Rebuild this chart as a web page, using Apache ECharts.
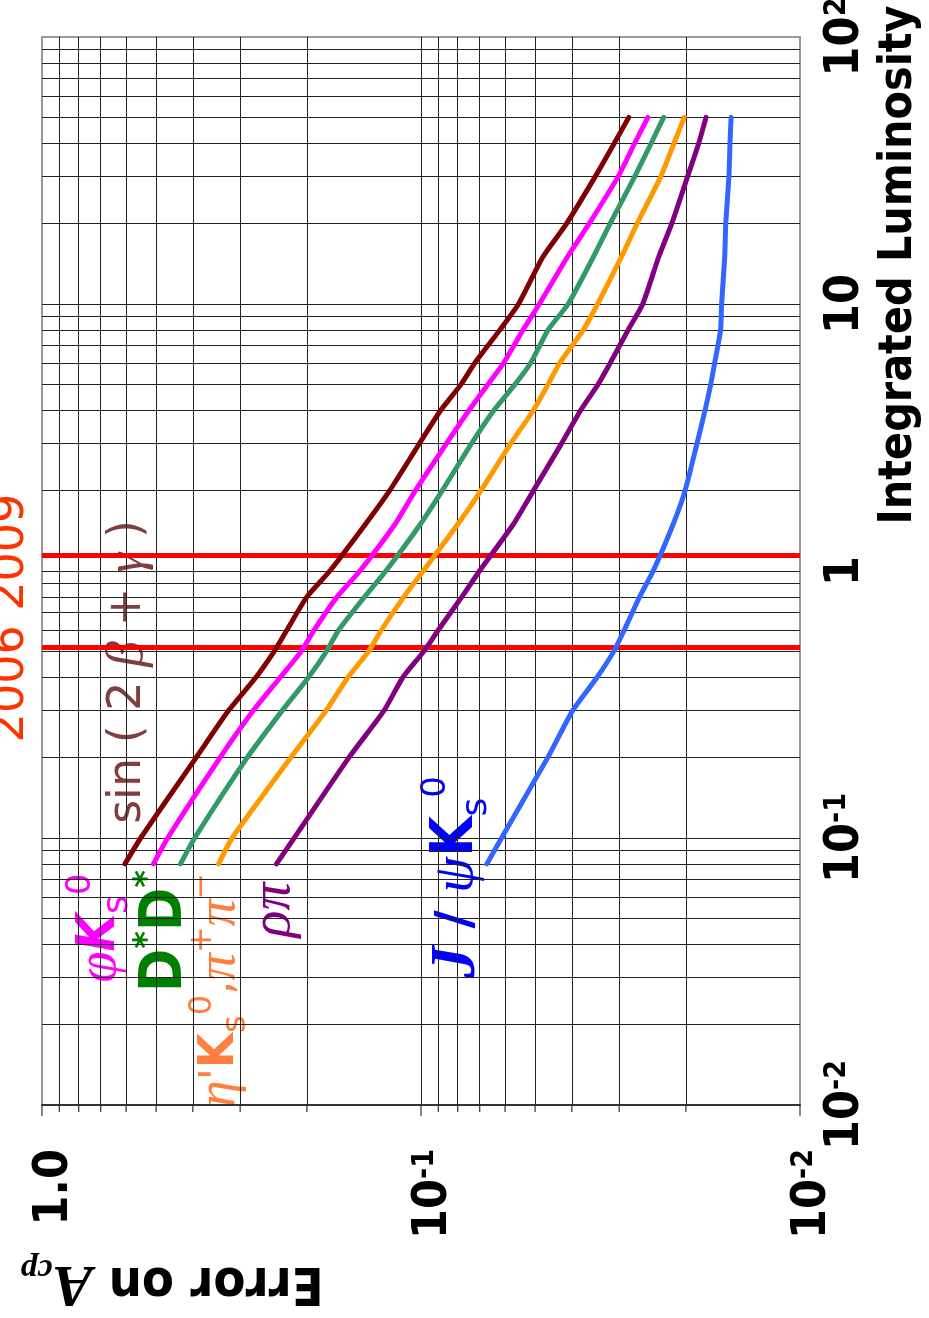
<!DOCTYPE html>
<html>
<head>
	<meta charset="utf-8">
	<title>Error on Acp vs Integrated Luminosity</title>
	<script src="https://cdn.jsdelivr.net/npm/echarts@6/dist/echarts.min.js"></script>
	<style>
		html, body { margin: 0; padding: 0; background: #fff; }
		#main { width: 929px; height: 1318px; }
	</style>
</head>
<body>
<div id="main"></div>
<script>
	// integrated luminosity at which each curve was read
	var lumi = [0.08, 0.1, 0.2, 0.3, 0.4, 0.5, 0.6, 0.8, 1, 1.5, 2, 3, 4, 5, 6, 8, 10, 15, 20, 30, 40, 50];
	// error on Acp for each channel
	var sinErr   = [0.604, 0.549, 0.392, 0.322, 0.2725, 0.244, 0.226, 0.200, 0.174, 0.140, 0.121, 0.101, 0.0887, 0.0784, 0.0722, 0.0619, 0.0553, 0.0477, 0.0413, 0.0347, 0.0309, 0.0283];
	var phiErr   = [0.508, 0.466, 0.339, 0.277, 0.235, 0.207, 0.1915, 0.1665, 0.145, 0.117, 0.1035, 0.0857, 0.0747, 0.0666, 0.0606, 0.0538, 0.0487, 0.0411, 0.0360, 0.0302, 0.0273, 0.0252];
	var ddErr    = [0.431, 0.3955, 0.2875, 0.2324, 0.198, 0.1776, 0.165, 0.1409, 0.1238, 0.1003, 0.0879, 0.0736, 0.0642, 0.0565, 0.0514, 0.0462, 0.0409, 0.0351, 0.0317, 0.0273, 0.0247, 0.0229];
	var etaErr   = [0.342, 0.315, 0.2207, 0.178, 0.1558, 0.1375, 0.1273, 0.111, 0.0987, 0.0799, 0.0695, 0.058, 0.0505, 0.0462, 0.0431, 0.0373, 0.0342, 0.0296, 0.0269, 0.0233, 0.0215, 0.0202];
	var rhoErr   = [0.2406, 0.2161, 0.155, 0.1252, 0.1116, 0.0983, 0.0901, 0.078, 0.0701, 0.057, 0.0505, 0.0426, 0.0379, 0.0341, 0.0317, 0.0284, 0.026, 0.0236, 0.0218, 0.0198, 0.0185, 0.0177];
	var jpsiErr  = [0.067, 0.0613, 0.0463, 0.0398, 0.0343, 0.031, 0.0291, 0.0265, 0.0244, 0.0216, 0.0201, 0.0187, 0.0178, 0.0172, 0.0168, 0.0162, 0.0161, 0.0158, 0.0157, 0.0154, 0.0153, 0.0152];
	// grid lines / ticks
	var errTicks  = [0.01, 0.02, 0.03, 0.04, 0.05, 0.06, 0.07, 0.08, 0.09, 0.1, 0.2, 0.3, 0.4, 0.5, 0.6, 0.7, 0.8, 0.9, 1];
	var lumiTicks = [0.02, 0.03, 0.04, 0.05, 0.06, 0.07, 0.08, 0.09, 0.1, 0.2, 0.3, 0.4, 0.5, 0.6, 0.7, 0.8, 0.9, 1,
		2, 3, 4, 5, 6, 7, 8, 9, 10, 20, 30, 40, 50, 60, 70, 80, 90];
	// 2006 / 2009 luminosity marks
	var yearLumi = [0.52, 1.15];

	var sans = "'DejaVu Sans Condensed', 'DejaVu Sans', sans-serif";
	var plain = "'DejaVu Sans', sans-serif";
	var serif = "'Liberation Serif', 'DejaVu Serif', serif";
	var myChart = echarts.init(document.getElementById('main'));

	function pts(errs) {
		return lumi.map(function (l, i) { return [errs[i], l]; });
	}
	function curve(name, errs, color) {
		return {
			name: name, type: 'line', data: pts(errs), showSymbol: false, smooth: 0.2, z: 5,
			lineStyle: { color: color, width: 5, cap: 'round', join: 'round' }, itemStyle: { color: color }
		};
	}
	function decade(v) { return Math.round(Math.log(v) / Math.LN10); }

	var supStyle = { fontSize: 30, fontWeight: 'bold', fontFamily: sans, color: '#000', verticalAlign: 'top' };

	var option = {
		animation: false,
		backgroundColor: '#fff',
		grid: { left: 42, right: 129, top: 37, bottom: 213, show: true, borderColor: '#999', borderWidth: 2, outerBoundsMode: 'none' },
		xAxis: {
			type: 'log', logBase: 10, min: 0.01, max: 1, inverse: true,
			axisLine: { show: true, lineStyle: { color: '#333', width: 2 } },
			axisTick: { show: false },
			splitLine: { show: false },
			axisLabel: {
				rotate: 90, margin: 44, fontSize: 48, fontWeight: 'bold', fontFamily: sans, color: '#000',
				padding: [26, 0, 0, 0],
				formatter: function (v) {
					var e = decade(v);
					return e === 0 ? '1.0' : '10{sup|' + e + '}';
				},
				rich: { sup: supStyle }
			}
		},
		yAxis: {
			type: 'log', logBase: 10, min: 0.01, max: 100, position: 'right',
			axisLine: { show: true, lineStyle: { color: '#999', width: 2 } },
			axisTick: { show: false },
			splitLine: { show: false },
			axisLabel: {
				rotate: 90, margin: 22, fontSize: 48, fontWeight: 'bold', fontFamily: sans, color: '#000',
				formatter: function (v) {
					var e = decade(v);
					if (e === 0) return '1';
					if (e === 1) return '10';
					return '10{sup|' + e + '}';
				},
				rich: { sup: supStyle }
			}
		},
		series: [
			{
				type: 'line', data: [], silent: true, z: 1,
				markLine: {
					silent: true, symbol: ['none', 'none'], label: { show: false },
					lineStyle: { color: '#222', width: 1, type: 'solid' },
					emphasis: { disabled: true },
					data: errTicks.slice(1, -1).map(function (v) { return { xAxis: v }; })
						.concat(lumiTicks.map(function (v) { return { yAxis: v }; }))
				}
			},
			{
				type: 'custom', silent: true, clip: false, z: 2,
				data: errTicks.map(function (v) { return [v, 0.01]; }),
				renderItem: function (params, api) {
					var v = api.value(0);
					var p = api.coord([v, api.value(1)]);
					var len = Math.abs(Math.log(v) / Math.LN10 - decade(v)) < 1e-6 ? 11 : 7;
					return { type: 'line', shape: { x1: p[0], y1: p[1], x2: p[0], y2: p[1] + len }, style: { stroke: '#333', lineWidth: 1.2 } };
				}
			},
			curve('sin(2β+γ)', sinErr, '#800000'),
			curve('φKs', phiErr, '#ff00ff'),
			curve('D*D*', ddErr, '#339966'),
			curve("η'Ks,ππ", etaErr, '#ff9900'),
			curve('ρπ', rhoErr, '#800080'),
			curve('J/ψKs', jpsiErr, '#3366ff'),
			{
				type: 'line', data: [], silent: true, z: 8,
				markLine: {
					silent: true, symbol: ['none', 'none'], label: { show: false },
					lineStyle: { color: '#ff0000', width: 5, type: 'solid' },
					data: yearLumi.map(function (v) { return { yAxis: v }; })
				}
			}
		],
		graphic: [
			{ // y axis name (luminosity)
				type: 'text', x: 899, y: 265, rotation: Math.PI / 2,
				style: { text: 'Integrated Luminosity', fontSize: 46, fontWeight: 'bold', fontFamily: sans, fill: '#000', align: 'center', verticalAlign: 'middle' }
			},
			{ // x axis name, upside down
				type: 'text', x: 172, y: 1282, rotation: Math.PI,
				style: {
					text: 'Error on {a|A}{c|cp}', fontSize: 52, fontWeight: 'bold', fontFamily: sans, fill: '#000', align: 'center', verticalAlign: 'middle',
					rich: {
						a: { fontSize: 60, fontStyle: 'italic', fontWeight: 'bold', fontFamily: serif, fill: '#000' },
						c: { fontSize: 34, fontStyle: 'italic', fontWeight: 'bold', fontFamily: serif, fill: '#000', verticalAlign: 'bottom' }
					}
				}
			},
			{
				type: 'text', x: 11, y: 618, rotation: Math.PI / 2,
				style: { text: '2006 2009', fontSize: 46, fontFamily: plain, fill: '#ff3300', align: 'center', verticalAlign: 'middle' }
			},
			{
				type: 'text', x: 128, y: 672, rotation: Math.PI / 2,
				style: {
					text: '{t|sin ( 2 }{g|β}{t| + }{g|γ}{t| )}', align: 'center', verticalAlign: 'middle',
					rich: {
						t: { fontSize: 46, fontFamily: plain, fill: '#7f3f3f' },
						g: { fontSize: 52, fontFamily: serif, fontStyle: 'italic', fill: '#7f3f3f' }
					}
				}
			},
			{
				type: 'text', x: 100, y: 928, rotation: Math.PI / 2,
				style: {
					text: '{g|φ}{k|K}{sub|s}{sup|0}', align: 'center', verticalAlign: 'middle',
					rich: {
						g: { fontSize: 56, fontFamily: serif, fontStyle: 'italic', fill: '#ff00ff', lineHeight: 72 },
						k: { fontSize: 54, fontFamily: sans, fontWeight: 'bold', fontStyle: 'italic', fill: '#ff00ff', lineHeight: 72 },
						sub: { fontSize: 36, fontFamily: plain, fill: '#ff00ff', verticalAlign: 'bottom' },
						sup: { fontSize: 34, fontFamily: plain, fill: '#ff00ff', verticalAlign: 'top' }
					}
				}
			},
			{
				type: 'text', x: 166, y: 931, rotation: Math.PI / 2,
				style: {
					text: '{d|D}{s|*}{d|D}{s|*}', align: 'center', verticalAlign: 'middle',
					rich: {
						d: { fontSize: 58, fontFamily: sans, fontWeight: 'bold', fill: '#008000', lineHeight: 70 },
						s: { fontSize: 34, fontFamily: plain, fontWeight: 'bold', fill: '#008000', verticalAlign: 'top' }
					}
				}
			},
			{
				type: 'text', x: 220, y: 990, rotation: Math.PI / 2,
				style: {
					text: "{g|η}{t|'}{k|K}{sub|s}{sup|0}{t|,}{g|π}{sup|+}{g|π}{sup|−}", align: 'center', verticalAlign: 'middle',
					rich: {
						g: { fontSize: 54, fontFamily: serif, fontStyle: 'italic', fill: '#ff7f3f', lineHeight: 66 },
						t: { fontSize: 46, fontFamily: plain, fill: '#ff7f3f', lineHeight: 66 },
						k: { fontSize: 50, fontFamily: sans, fontWeight: 'bold', fill: '#ff7f3f', lineHeight: 66 },
						sub: { fontSize: 34, fontFamily: plain, fill: '#ff7f3f', verticalAlign: 'bottom' },
						sup: { fontSize: 32, fontFamily: plain, fill: '#ff7f3f', verticalAlign: 'top' }
					}
				}
			},
			{
				type: 'text', x: 274, y: 910, rotation: Math.PI / 2,
				style: { text: 'ρπ', fontSize: 56, fontFamily: serif, fontStyle: 'italic', fill: '#800080', align: 'center', verticalAlign: 'middle' }
			},
			{
				type: 'text', x: 457, y: 877, rotation: Math.PI / 2,
				style: {
					text: '{j|J}{t| / }{g|ψ}{k|K}{sub|s}{sup|0}', align: 'center', verticalAlign: 'middle',
					rich: {
						j: { fontSize: 64, fontFamily: serif, fontStyle: 'italic', fontWeight: 'bold', fill: '#0000ff', lineHeight: 76 },
						t: { fontSize: 50, fontFamily: plain, fontWeight: 'bold', fill: '#0000ff', lineHeight: 76 },
						g: { fontSize: 58, fontFamily: serif, fontStyle: 'italic', fill: '#0000ff', lineHeight: 76 },
						k: { fontSize: 58, fontFamily: sans, fontWeight: 'bold', fill: '#0000ff', lineHeight: 76 },
						sub: { fontSize: 36, fontFamily: plain, fill: '#0000ff', verticalAlign: 'bottom' },
						sup: { fontSize: 34, fontFamily: plain, fill: '#0000ff', verticalAlign: 'top' }
					}
				}
			}
		]
	};
	myChart.setOption(option);
	window.addEventListener('resize', function () { myChart.resize(); });
</script>
</body>
</html>
